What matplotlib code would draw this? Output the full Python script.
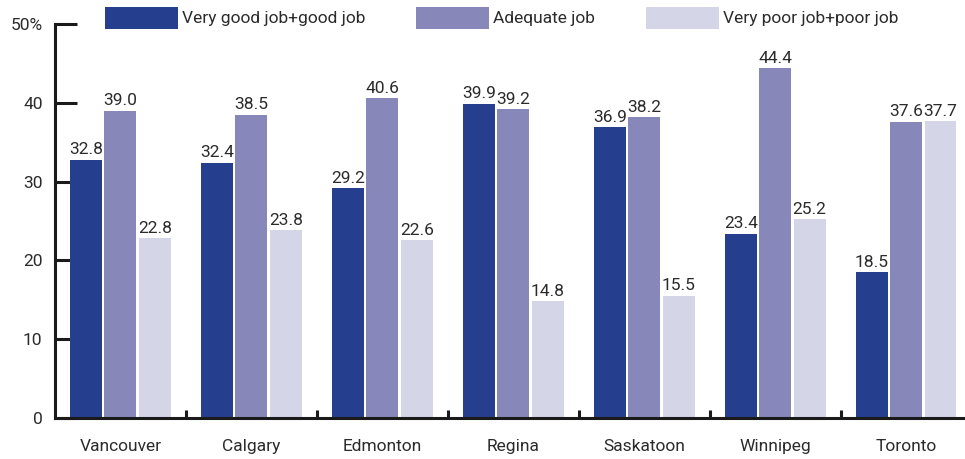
import numpy as np
import matplotlib
matplotlib.use("Agg")
import matplotlib.pyplot as plt
from matplotlib.patches import Patch

plt.rcParams['font.family'] = ['Roboto', 'DejaVu Sans']

cities = ['Vancouver', 'Calgary', 'Edmonton', 'Regina', 'Saskatoon', 'Winnipeg', 'Toronto']
good = [32.8, 32.4, 29.2, 39.9, 36.9, 23.4, 18.5]
adequate = [39.0, 38.5, 40.6, 39.2, 38.2, 44.4, 37.6]
poor = [22.8, 23.8, 22.6, 14.8, 15.5, 25.2, 37.7]
series_names = ['Very good job+good job', 'Adequate job', 'Very poor job+poor job']
y_ticks = [0, 10, 20, 30, 40, 50]
y_labels = ['0', '10', '20', '30', '40', '50%']

colors = ['#263e8e', '#8787b9', '#d4d5e7']
text_col = '#2b2b2b'
fs = 12.5

fig = plt.figure(figsize=(9.65, 4.59), dpi=100)
ax = fig.add_axes([55 / 965, 1 - 418 / 459, 910 / 965, (418 - 24) / 459])

x = np.arange(len(cities))
width = 0.244
step = 0.263
for k, vals in enumerate([good, adequate, poor]):
    xs = x + (k - 1) * step
    ax.bar(xs, vals, width=width, color=colors[k], zorder=2)
    for xi, v in zip(xs, vals):
        ax.text(xi, v + 0.3, f'{v:.1f}', ha='center', va='bottom',
                fontsize=fs, color=text_col)

ax.set_xlim(-0.5, 6.45)
ax.set_ylim(0, 50)

for s in ['top', 'right']:
    ax.spines[s].set_visible(False)
for s in ['left', 'bottom']:
    ax.spines[s].set_linewidth(2.2)
    ax.spines[s].set_color('#1a1a1a')
    ax.spines[s].set_zorder(3)

ax.set_yticks(y_ticks)
ax.set_yticklabels(y_labels)
ax.tick_params(axis='y', direction='in', length=16, width=2.2, color='#1a1a1a',
               labelsize=fs, labelcolor=text_col, pad=9)

# separators between city groups, city names on minor ticks
ax.set_xticks(x[:-1] + 0.5)
ax.set_xticklabels([])
ax.set_xticks(x, minor=True)
ax.set_xticklabels(cities, minor=True)
ax.tick_params(axis='x', which='major', direction='in', length=6, width=2.2,
               color='#1a1a1a')
ax.tick_params(axis='x', which='minor', length=0, labelsize=fs,
               labelcolor=text_col, pad=15)

handles = [Patch(facecolor=c) for c in colors]
fig.legend(handles, series_names, loc='upper left', bbox_to_anchor=(93 / 965, 1.012),
           ncol=3, frameon=False, fontsize=fs, handlelength=4.2, handleheight=1.6,
           handletextpad=0.25, columnspacing=2.9, borderpad=0.2,
           labelcolor=text_col)

fig.savefig('out.png', dpi=100)
